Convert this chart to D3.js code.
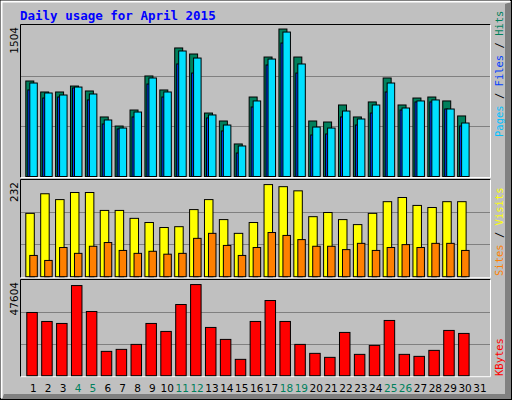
<!DOCTYPE html>
<html><head><meta charset="utf-8">
<script src="https://cdn.jsdelivr.net/npm/d3@7"></script>
<style>body{margin:0;background:#fff}</style>
</head><body>
<svg id="chart" width="512" height="400"></svg>
<script>
"use strict";

const days = d3.range(1, 32);
const weekend = [4, 5, 11, 12, 18, 19, 25, 26];
const hits  = [948,839,839,898,849,591,501,660,998,859,1276,1216,630,551,323,789,1186,1464,1186,551,541,710,591,740,978,710,779,789,750,601];
const files = [859,779,789,879,760,521,472,591,918,789,1117,1027,581,452,233,690,1107,1325,1027,412,422,591,511,630,839,660,740,740,670,501];
const pages = [928,829,809,888,819,561,481,640,978,839,1246,1176,611,511,303,750,1166,1434,1117,491,481,650,571,710,928,680,750,760,670,531];
const visits = [152,199,185,202,202,159,159,140,130,118,120,161,185,137,104,130,221,216,206,144,154,137,125,152,180,190,171,166,180,180];
const sites  = [51,39,70,56,73,82,63,56,61,54,56,92,104,75,51,70,106,99,89,73,73,65,80,63,70,77,70,80,80,63];
const kbytes = [31446,26982,25990,44838,31942,12102,13094,15574,25990,22022,35414,45334,24006,18054,8134,26982,37398,26982,15574,11110,9126,21526,10614,15078,27478,10614,9622,12598,22518,21030];
const maxHits = 1504, maxVisits = 232, maxKB = 47604;

const svg = d3.select("#chart");
const x = d3.scaleLinear().domain([1, 31]).range([33.3, 480]);

// background + 3d border
svg.append("rect").attr("x", 0.5).attr("y", 0.5).attr("width", 511).attr("height", 399)
    .attr("fill", "#c0c0c0").attr("stroke", "#000");
svg.append("path").attr("d", "M505,4 L511,2 L511,399 L2,399 L4,394 L505,394 Z").attr("fill", "#808080");
svg.append("path").attr("d", "M1.5,398 L1.5,1.5 L510,1.5").attr("fill", "none").attr("stroke", "#fff").attr("stroke-width", 2);

svg.append("text").attr("x", 20).attr("y", 20)
    .attr("font-family", "DejaVu Sans Mono").attr("font-weight", "bold").attr("font-size", 12.5)
    .attr("fill", "#0000ff").text("Daily usage for April 2015");

function panel(top, bottom, max, label) {
    const y = d3.scaleLinear().domain([0, max]).range([bottom, top]);
    svg.append("path").attr("d", `M20.5,${bottom + 1} L20.5,${top - 0.5} L490.5,${top - 0.5}`)
        .attr("fill", "none").attr("stroke", "#000");
    svg.append("path").attr("d", `M490.5,${top - 0.5} L490.5,${bottom + 1} L20.5,${bottom + 1}`)
        .attr("fill", "none").attr("stroke", "#fff");
    [max / 3, max * 2 / 3].forEach(v => {
        svg.append("line").attr("x1", 21).attr("x2", 490).attr("y1", Math.round(y(v)) + 0.5).attr("y2", Math.round(y(v)) + 0.5)
            .attr("stroke", "#808080");
    });
    svg.append("text").attr("transform", `translate(18,${top + 2}) rotate(-90)`)
        .attr("text-anchor", "end").attr("font-family", "DejaVu Sans").attr("font-size", 10.5)
        .attr("fill", "#000").text(label);
    return y;
}

function bars(y, data, x0, x1, color) {
    svg.append("g").selectAll("rect").data(data).enter().append("rect")
        .attr("x", (d, i) => x(i + 1) + x0 + 0.5)
        .attr("width", x1 - x0)
        .attr("y", d => y(d))
        .attr("height", d => y(0) - y(d))
        .attr("fill", color).attr("stroke", "#000");
}

const yTop = panel(25, 176.5, maxHits, String(maxHits));
bars(yTop, hits, -8, 0, "#00805c");
bars(yTop, files, -6, -3, "#0040ff");
bars(yTop, pages, -4, 3.5, "#00e0ff");

const yMid = panel(180, 276.7, maxVisits, String(maxVisits));
bars(yMid, visits, -8, 0.5, "#ffff00");
bars(yMid, sites, -4, 3.5, "#ff8000");

const yBot = panel(280, 375.7, maxKB, String(maxKB));
bars(yBot, kbytes, -7, 3.5, "#ff0000");

svg.append("g").selectAll("text").data(days).enter().append("text")
    .attr("x", d => x(d)).attr("y", 392).attr("text-anchor", "middle")
    .attr("font-family", "DejaVu Sans").attr("font-size", 10.5)
    .attr("fill", d => weekend.includes(d) ? "#00805c" : "#000").text(d => d);

function sideLabel(yBase, parts) {
    const t = svg.append("text").attr("transform", `translate(503,${yBase}) rotate(-90)`)
        .attr("font-family", "DejaVu Sans Mono").attr("font-size", 10.5);
    parts.forEach(p => t.append("tspan").attr("fill", p[1]).text(p[0]));
}
sideLabel(137, [["Pages", "#00c0ff"], [" / ", "#000"], ["Files", "#0040ff"], [" / ", "#000"], ["Hits", "#00805c"]]);
sideLabel(276, [["Sites", "#ff8000"], [" / ", "#000"], ["Visits", "#ffff00"]]);
sideLabel(376, [["KBytes", "#ff0000"]]);
</script>
</body></html>
